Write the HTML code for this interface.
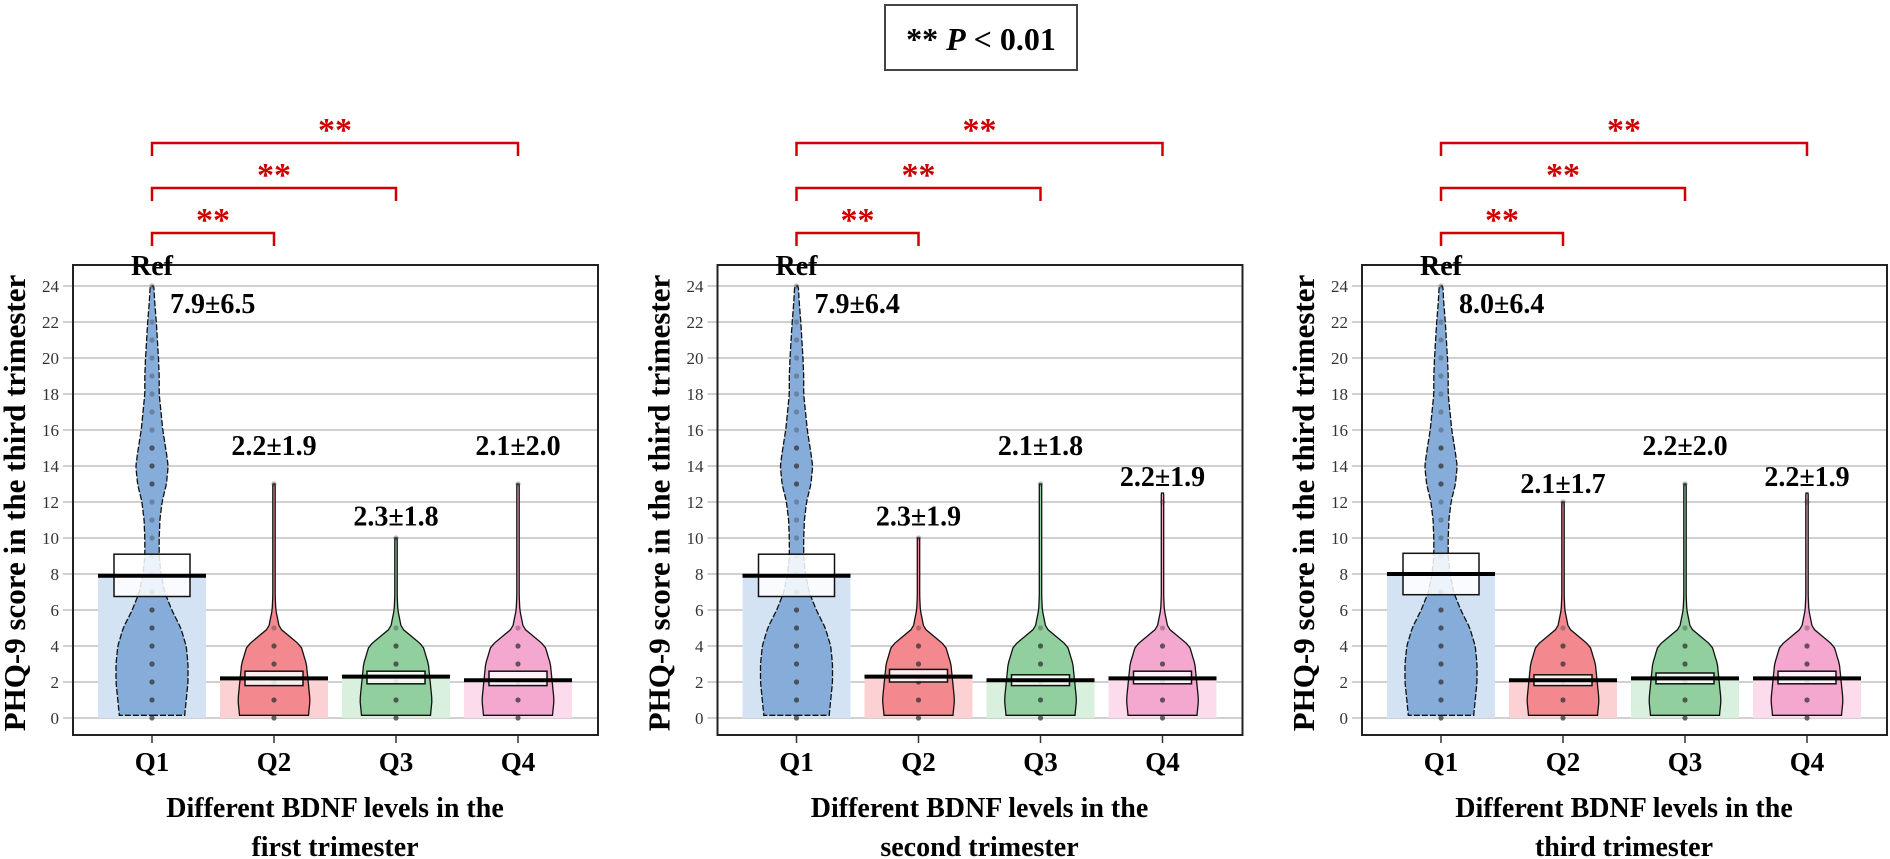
<!DOCTYPE html>
<html><head><meta charset="utf-8"><style>
body{margin:0;background:#fff}
svg{display:block}
text{font-family:"Liberation Serif",serif}
</style></head><body>
<svg id="chart" width="1890" height="859" viewBox="0 0 1890 859" xmlns="http://www.w3.org/2000/svg">
<g>
<rect x="885" y="5" width="192" height="65" fill="#fff" stroke="#444" stroke-width="2"/>
<text x="981" y="50" text-anchor="middle" font-size="32" font-weight="bold">** <tspan font-style="italic">P</tspan> &lt; 0.01</text>
</g>
</svg>
<script>
const categories = ["Q1","Q2","Q3","Q4"];
const panelTitles = [["Different BDNF levels in the","first trimester"],["Different BDNF levels in the","second trimester"],["Different BDNF levels in the","third trimester"]];
const means1 = [7.9, 2.2, 2.3, 2.1];
const means2 = [7.9, 2.3, 2.1, 2.2];
const means3 = [8.0, 2.1, 2.2, 2.2];
const sds1 = [6.5, 1.9, 1.8, 2.0];
const sds2 = [6.4, 1.9, 1.8, 1.9];
const sds3 = [6.4, 1.7, 2.0, 1.9];
const labelY1 = [23, 15.1, 11.2, 15.1];
const labelY2 = [23, 11.2, 15.1, 13.4];
const labelY3 = [23, 13.0, 15.1, 13.4];
const maxes1 = [24, 13, 10, 13];
const maxes2 = [24, 10, 13, 12.5];
const maxes3 = [24, 12, 13, 12.5];
const ciLow1 = [6.75, 1.8, 1.9, 1.8];
const ciHigh1 = [9.1, 2.6, 2.6, 2.6];
const ciLow2 = [6.75, 2.0, 1.8, 1.9];
const ciHigh2 = [9.1, 2.7, 2.4, 2.6];
const ciLow3 = [6.85, 1.8, 1.9, 1.9];
const ciHigh3 = [9.15, 2.4, 2.5, 2.6];
const densityQ1 = [0.9,0.95,1,1,0.95,0.8,0.55,0.35,0.25,0.2,0.2,0.22,0.28,0.4,0.45,0.38,0.3,0.25,0.2,0.2,0.18,0.15,0.12,0.08,0.05];
const densityLow = [0.95,1,0.95,0.9,0.75,0.15,0.05,0.03,0.03,0.03,0.03,0.03,0.03];
const yTicks = [0,2,4,6,8,10,12,14,16,18,20,22,24];
const brackets = [["Q1","Q2"],["Q1","Q3"],["Q1","Q4"]];

const NS="http://www.w3.org/2000/svg";
const svg=document.getElementById('chart');
function mk(tag,attrs,parent){const e=document.createElementNS(NS,tag);for(const k in attrs)e.setAttribute(k,attrs[k]);(parent||svg).appendChild(e);return e;}
const violinFill=["#86acd9","#f3898f","#92cf9f","#f5a8cf"];
const barFill=["#d4e3f4","#fbd1d3","#d8f0dd","#fcdcec"];
const panelsData=[[means1,sds1,labelY1,maxes1,ciLow1,ciHigh1],[means2,sds2,labelY2,maxes2,ciLow2,ciHigh2],[means3,sds3,labelY3,maxes3,ciLow3,ciHigh3]];
const frameTop=265, frameBottom=735, y0=718, unit=18, panelW=525;
function yS(v){return y0-v*unit;}
panelsData.forEach((pd,p)=>{
  const [means,sds,labelY,maxes,ciLow,ciHigh]=pd;
  const left=73+p*644.5;
  function xS(i){return left+79+i*122;}
  const g=mk('g',{});
  
  
  mk('rect',{x:left,y:frameTop,width:panelW,height:frameBottom-frameTop,fill:'#fff',stroke:'none'},g);
  yTicks.forEach(t=>{
    const l=mk('line',{x1:left-10,x2:left+panelW,y1:yS(t),y2:yS(t),stroke:'#d0d0d0','stroke-width':2},g);
    
    
    const tx=mk('text',{x:left-14,y:yS(t)+6,'text-anchor':'end','font-size':17,fill:'#333','font-family':'Liberation Sans, sans-serif'},g);
    tx.textContent=t;
    
    
  });
  categories.forEach((c,i)=>{
    const cx=xS(i);
    const bar=mk('rect',{x:cx-54,y:yS(means[i]),width:108,height:y0-yS(means[i]),fill:barFill[i]},g);
    
    
    const dens=i===0?densityQ1:densityLow;
    const maxv=maxes[i];
    let pts=[];
    for(let v=0.15;v<=maxv;v+=0.25){
      const k=Math.min(Math.floor(v),dens.length-1), f=v-k;
      const d0=dens[k], d1=dens[Math.min(k+1,dens.length-1)];
      let d=d0*(1-f)+d1*f; if(v>dens.length-1)d=0.03;
      pts.push([v,Math.max(d*36,1.2)]);
    }
    pts.push([maxv,1]);
    let path='M'+cx+','+yS(0.15);
    pts.forEach(q=>{path+=' L'+(cx+q[1]).toFixed(1)+','+yS(q[0]).toFixed(1);});
    for(let j=pts.length-1;j>=0;j--){path+=' L'+(cx-pts[j][1]).toFixed(1)+','+yS(pts[j][0]).toFixed(1);}
    path+='Z';
    const vio=mk('path',{d:path,fill:violinFill[i],stroke:'#111','stroke-width':1.3,'stroke-dasharray':i===0?'6 2':'none'},g);
    
    
    for(let v=0;v<=Math.floor(maxv);v++){
      const d=(v<dens.length?dens[v]:0.03);
      if(d>0.1 || v===Math.floor(maxv)){
        const dot=mk('circle',{cx:cx,cy:yS(v),r:2.6,fill:'#333','fill-opacity':d>0.3?0.75:0.35},g);
        
        
      }
    }
    const bw=i===0?76:58;
    const box=mk('rect',{x:cx-bw/2,y:yS(ciHigh[i]),width:bw,height:yS(ciLow[i])-yS(ciHigh[i]),fill:'#fff','fill-opacity':0.85,stroke:'#111','stroke-width':1.5},g);
    
    
    const ml=mk('line',{x1:cx-54,x2:cx+54,y1:yS(means[i]),y2:yS(means[i]),stroke:'#000','stroke-width':4},g);
    
    
    const lab=mk('text',{x:i===0?cx+18:cx,y:yS(labelY[i])+9,'text-anchor':i===0?'start':'middle','font-size':28,'font-weight':'bold'},g);
    lab.textContent=means[i].toFixed(1)+'\u00b1'+sds[i].toFixed(1);
    
    
    mk('line',{x1:cx,x2:cx,y1:frameBottom,y2:frameBottom+8,stroke:'#333','stroke-width':1.5},g);
    const xl=mk('text',{x:cx,y:771,'text-anchor':'middle','font-size':27,'font-weight':'bold'},g);
    xl.textContent=c;
    
    
  });
  mk('rect',{x:left,y:frameTop,width:panelW,height:frameBottom-frameTop,fill:'none',stroke:'#222','stroke-width':2},g);
  const ref=mk('text',{x:xS(0),y:frameTop+10,'text-anchor':'middle','font-size':28,'font-weight':'bold'},g);
  ref.textContent='Ref';
  
  
  const yt=mk('text',{x:0,y:0,'text-anchor':'middle','font-size':31,'font-weight':'bold',transform:'translate('+(left-48)+',503) rotate(-90)'},g);
  yt.textContent='PHQ-9 score in the third trimester';
  
  
  panelTitles[p].forEach((line,k)=>{
    const t=mk('text',{x:left+262,y:817+k*39,'text-anchor':'middle','font-size':28,'font-weight':'bold'},g);
    t.textContent=line;
    
    
  });
  const levels=[233,188,143];
  brackets.forEach((b,k)=>{
    const xa=xS(categories.indexOf(b[0])), xb=xS(categories.indexOf(b[1]));
    const yb=levels[k];
    const br=mk('path',{d:'M'+xa+','+(yb+13)+' L'+xa+','+yb+' L'+xb+','+yb+' L'+xb+','+(yb+13),fill:'none',stroke:'#d10000','stroke-width':2.5},g);
    
    
    const st=mk('text',{x:(xa+xb)/2,y:yb-2,'text-anchor':'middle','font-size':34,'font-weight':'bold',fill:'#cc0000','font-family':'Liberation Sans, sans-serif'},g);
    st.textContent='**';
    
    
  });
});
</script>
</body></html>
